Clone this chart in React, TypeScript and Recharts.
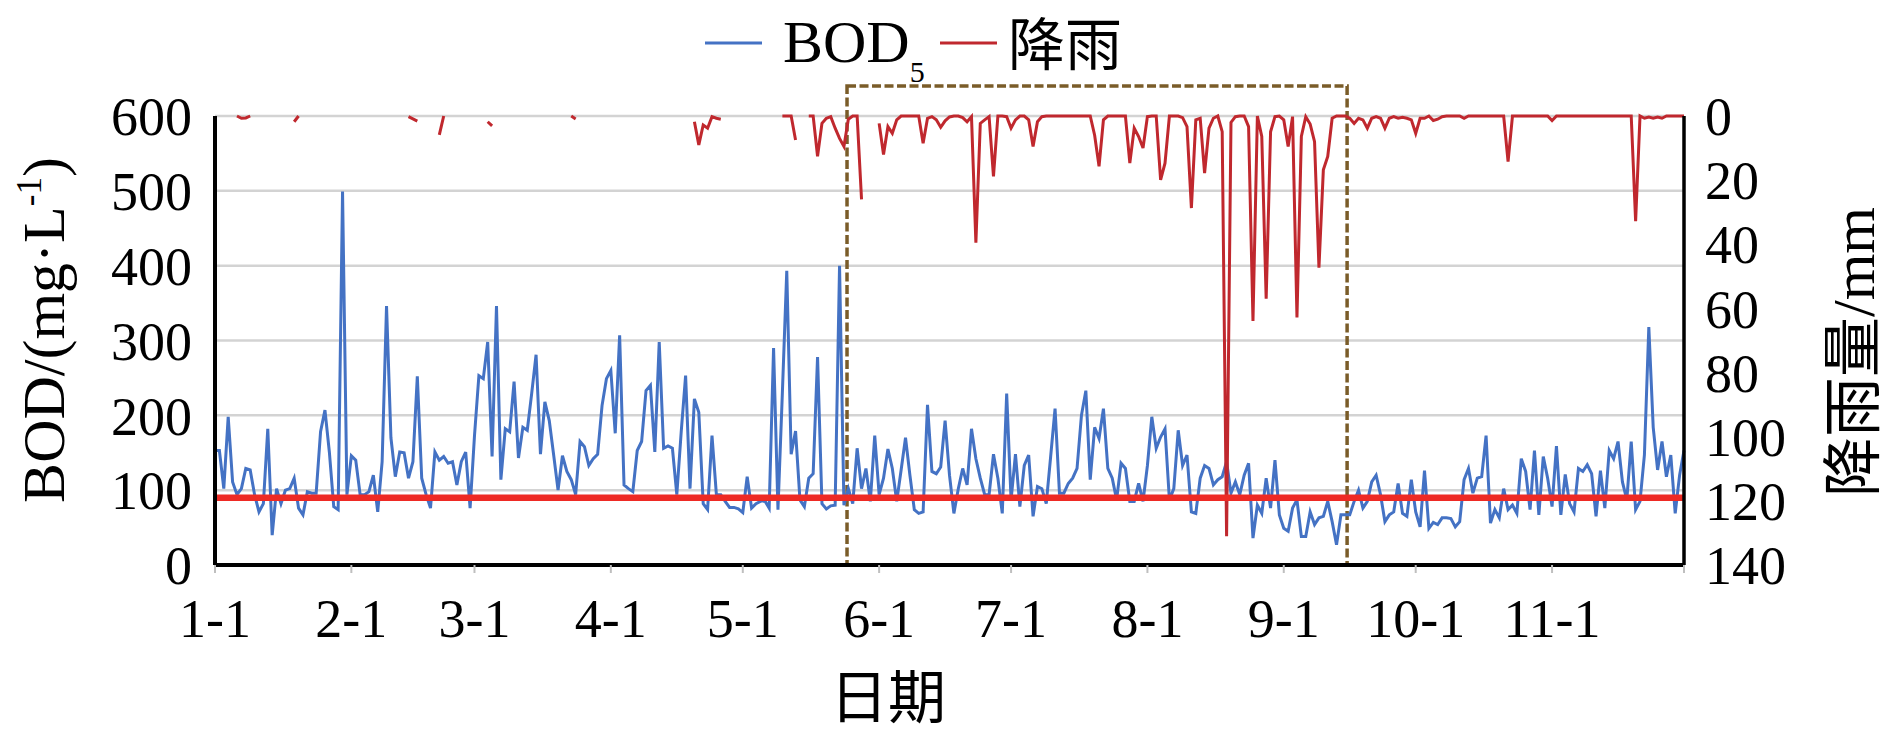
import React from 'react';
import { LineChart, Line, XAxis, YAxis, CartesianGrid, ReferenceLine, ReferenceArea, Legend } from 'recharts';

// Daily BOD5 (mg/L), day 0 = 1-1 ... day 334 = 12-1
const bodValues: number[] = [
  153, 153, 102, 198, 111, 94, 102, 129, 127, 94,
  71, 82, 182, 40, 102, 82, 100, 102, 116, 76,
  67, 98, 96, 96, 178, 207, 151, 78, 74, 499,
  94, 146, 140, 94, 94, 98, 120, 71, 138, 346,
  170, 118, 151, 150, 116, 138, 252, 116, 94, 76,
  151, 140, 145, 136, 138, 107, 138, 151, 76, 173,
  253, 249, 298, 145, 346, 114, 182, 178, 245, 143,
  184, 180, 229, 281, 148, 218, 193, 147, 100, 146,
  125, 114, 94, 165, 158, 133, 142, 148, 213, 249,
  260, 176, 307, 107, 102, 98, 153, 165, 233, 240,
  151, 298, 156, 159, 156, 94, 178, 253, 102, 222,
  204, 82, 74, 173, 94, 94, 85, 77, 77, 75,
  70, 118, 76, 82, 85, 86, 76, 290, 74, 230,
  393, 148, 179, 87, 78, 116, 122, 278, 82, 75,
  79, 80, 400, 80, 102, 82, 156, 102, 129, 85,
  173, 94, 116, 155, 129, 85, 127, 170, 120, 74,
  69, 71, 214, 125, 122, 131, 193, 120, 69, 102,
  129, 107, 182, 142, 116, 94, 94, 148, 116, 69,
  229, 87, 148, 78, 133, 147, 65, 105, 102, 82,
  145, 209, 96, 96, 109, 116, 129, 200, 233, 114,
  184, 169, 209, 129, 116, 87, 136, 129, 85, 85,
  109, 85, 133, 198, 156, 171, 182, 87, 102, 180,
  133, 147, 71, 69, 116, 133, 129, 107, 114, 118,
  138, 96, 111, 94, 120, 136, 36, 80, 69, 116,
  76, 140, 67, 49, 45, 76, 87, 38, 38, 71,
  54, 63, 65, 85, 58, 27, 67, 67, 67, 85,
  100, 76, 85, 111, 120, 94, 58, 67, 71, 109,
  69, 65, 114, 71, 51, 126, 49, 57, 54, 63,
  63, 62, 51, 58, 114, 129, 96, 116, 118, 173,
  56, 74, 63, 102, 74, 80, 69, 142, 125, 74,
  153, 67, 145, 116, 78, 159, 67, 121, 82, 71,
  129, 125, 134, 122, 65, 126, 76, 153, 142, 165,
  111, 87, 165, 74, 85, 147, 318, 184, 127, 165,
  118, 147, 69, 120, 153,
];

// Daily rainfall (mm); null = not recorded
const n = null;
const rainValues: (number | null)[] = [
  n, n, n, n, n, 0, 0.7, 0.6, 0, n,
  n, n, n, n, n, n, n, n, 1.8, 0,
  n, n, n, n, n, n, n, n, n, n,
  n, n, n, n, n, n, n, n, n, n,
  n, n, n, n, 0.2, 0.9, 1.6, n, n, n,
  n, 5.9, 0, n, n, n, n, n, n, n,
  n, n, 1.8, 3.1, n, n, n, n, n, n,
  n, n, n, n, n, n, n, n, n, n,
  n, 0, 0.9, n, n, n, n, n, n, n,
  n, n, n, n, n, n, n, n, n, n,
  n, n, n, n, n, n, n, n, n, 1.8,
  9, 2.8, 3.8, 0.2, 0.7, 1.0, n, n, n, n,
  n, n, n, n, n, n, n, n, n, 0,
  0, 0, 7.5, n, n, 0, 0, 12.6, 2.3, 0.7,
  0.2, 3.8, 7, 9.5, 1, 0, 0, 26, n, n,
  n, 2.3, 12, 3.3, 5.4, 1.2, 0, 0, 0, 0,
  0, 8.5, 0.7, 0.2, 1.2, 3.5, 1.5, 0.3, 0, 0,
  0.5, 1.8, 0.2, 39.5, 2.3, 1.2, 0.2, 18.8, 0, 0,
  0.2, 3.8, 1.2, 0, 0, 1.2, 9.5, 1.8, 0.2, 0,
  0, 0, 0, 0, 0, 0, 0, 0, 0, 0,
  6, 15.7, 1.2, 0, 0, 0, 0, 0, 14.7, 3.8,
  6.4, 10, 0.2, 0, 0, 19.9, 14.7, 0, 0, 0,
  0.5, 3.3, 28.7, 1.2, 0.7, 17.8, 3.8, 0.7, 0, 4.9,
  131, 2, 0.2, 0, 0, 3.3, 63.9, 0, 6.4, 57,
  4.9, 0.2, 0, 1.2, 9.5, 0.2, 62.8, 6.4, 0.2, 2.5,
  8, 47.3, 16.8, 12.6, 0.7, 0, 0, 0, 0.7, 2.3,
  0.7, 1.2, 3.8, 0.7, 0.2, 0.7, 3.8, 0.7, 0.2, 0.7,
  0.4, 0.7, 1.2, 5.4, 0.7, 0.7, 0, 1.4, 1, 0.2,
  0, 0, 0, 0, 0.7, 0, 0, 0, 0, 0,
  0, 0, 0, 0, 14.2, 0, 0, 0, 0, 0,
  0, 0, 0, 0, 1.4, 0, 0, 0, 0, 0,
  0, 0, 0, 0, 0, 0, 0, 0, 0, 0,
  0, 0, 0, 32.8, 0, 0.7, 0.3, 0.7, 0.3, 0.7,
  0, 0, 0, 0, 0,
];

const monthTicks = [0, 31, 59, 90, 120, 151, 181, 212, 243, 273, 304, 334];
const monthLabels = ['1-1', '2-1', '3-1', '4-1', '5-1', '6-1', '7-1', '8-1', '9-1', '10-1', '11-1', ''];
const bodTicks = [0, 100, 200, 300, 400, 500, 600];
const rainTicks = [0, 20, 40, 60, 80, 100, 120, 140];
const bodLimit = 90;
const boxStartDay = 143.7;
const boxEndDay = 257.4;
const boxTop = 640;

const data = bodValues.map((bod, day) => ({ day, bod, rain: rainValues[day] }));

const SERIF = "'Liberation Serif', 'Times New Roman', serif";
const MIXED = "'Liberation Serif', 'Noto Sans CJK SC', serif";

const LeftTitle = () => (
  <text x={64} y={330} transform="rotate(-90, 64, 330)" textAnchor="middle" fontSize={60} fontFamily={SERIF} fill="#000">
    BOD/(mg·L<tspan dy={-23} fontSize={35}>-1</tspan><tspan dy={23}>)</tspan>
  </text>
);

const RightTitle = () => (
  <text x={1874} y={352} transform="rotate(-90, 1874, 352)" textAnchor="middle" fontSize={60} fontFamily={MIXED} fill="#000">
    降雨量/mm
  </text>
);

const BottomTitle = () => (
  <text x={888} y={718} textAnchor="middle" fontSize={58} fontFamily={MIXED} fill="#000">
    日期
  </text>
);

const legendSlots = [
  { lineX: 705, textX: 783 },
  { lineX: 940, textX: 1008 },
];

const renderLegend = (props: any) => {
  const payload = props.payload || [];
  return (
    <svg width={1890} height={100} style={{ display: 'block' }}>
      {payload.map((entry: any, i: number) => {
        const slot = legendSlots[i] || legendSlots[0];
        const isBod = entry.value === 'BOD5';
        return (
          <g key={i}>
            <line x1={slot.lineX} x2={slot.lineX + 57} y1={43} y2={43} stroke={entry.color} strokeWidth={3} />
            {isBod ? (
              <text x={slot.textX} y={62} fontSize={60} fontFamily={SERIF} fill="#000">
                BOD<tspan dy={20} fontSize={30}>5</tspan>
              </text>
            ) : (
              <text x={slot.textX} y={65} fontSize={57} fontFamily={MIXED} fill="#000">
                {entry.value}
              </text>
            )}
          </g>
        );
      })}
    </svg>
  );
};

export default function App() {
  return (
    <div style={{ position: 'absolute', left: 0, top: 0, width: 1890, height: 752, background: '#fff' }}>
      <LineChart width={1890} height={752} data={data} margin={{ top: 116, right: 0, bottom: 0, left: 0 }}>
        <CartesianGrid yAxisId="left" vertical={false} stroke="#D3D3D3" strokeWidth={2.5} />
        <XAxis
          dataKey="day"
          type="number"
          domain={[0, 334]}
          ticks={monthTicks}
          interval={0}
          tickFormatter={(v: number) => monthLabels[monthTicks.indexOf(v)] ?? ''}
          height={187}
          axisLine={{ stroke: '#000', strokeWidth: 4 }}
          tickLine={{ stroke: '#BFBFBF', strokeWidth: 2 }}
          tickSize={8}
          tickMargin={26}
          tick={{ fill: '#000', fontSize: 54, fontFamily: SERIF }}
          label={<BottomTitle />}
        />
        <YAxis
          yAxisId="left"
          orientation="left"
          width={215}
          domain={[0, 600]}
          ticks={bodTicks}
          interval={0}
          axisLine={{ stroke: '#000', strokeWidth: 4 }}
          tickLine={false}
          tickSize={0}
          tickMargin={23}
          tick={{ fill: '#000', fontSize: 54, fontFamily: SERIF }}
          label={<LeftTitle />}
        />
        <YAxis
          yAxisId="right"
          orientation="right"
          width={206}
          reversed
          domain={[0, 140]}
          ticks={rainTicks}
          interval={0}
          axisLine={{ stroke: '#000', strokeWidth: 3.5 }}
          tickLine={false}
          tickSize={0}
          tickMargin={21}
          tick={{ fill: '#000', fontSize: 54, fontFamily: SERIF }}
          label={<RightTitle />}
        />
        <Legend
          content={renderLegend}
          layout="horizontal"
          verticalAlign="middle"
          align="center"
          wrapperStyle={{ position: 'absolute', top: 0, left: 0, width: 1890, height: 100 }}
        />
        <Line
          yAxisId="left"
          type="linear"
          dataKey="bod"
          name="BOD5"
          stroke="#4472C4"
          strokeWidth={3}
          dot={false}
          activeDot={false}
          isAnimationActive={false}
        />
        <Line
          yAxisId="right"
          type="linear"
          dataKey="rain"
          name="降雨"
          stroke="#C0282E"
          strokeWidth={3}
          dot={false}
          activeDot={false}
          connectNulls={false}
          isAnimationActive={false}
        />
        <ReferenceLine yAxisId="left" y={bodLimit} stroke="#EE2A24" strokeWidth={6.5} />
        <ReferenceArea
          yAxisId="left"
          x1={boxStartDay}
          x2={boxEndDay}
          y1={0}
          y2={boxTop}
          ifOverflow="visible"
          fill="none"
          fillOpacity={0}
          stroke="#7A5C29"
          strokeWidth={3.5}
          strokeDasharray="9 3.5"
        />
      </LineChart>
    </div>
  );
}
